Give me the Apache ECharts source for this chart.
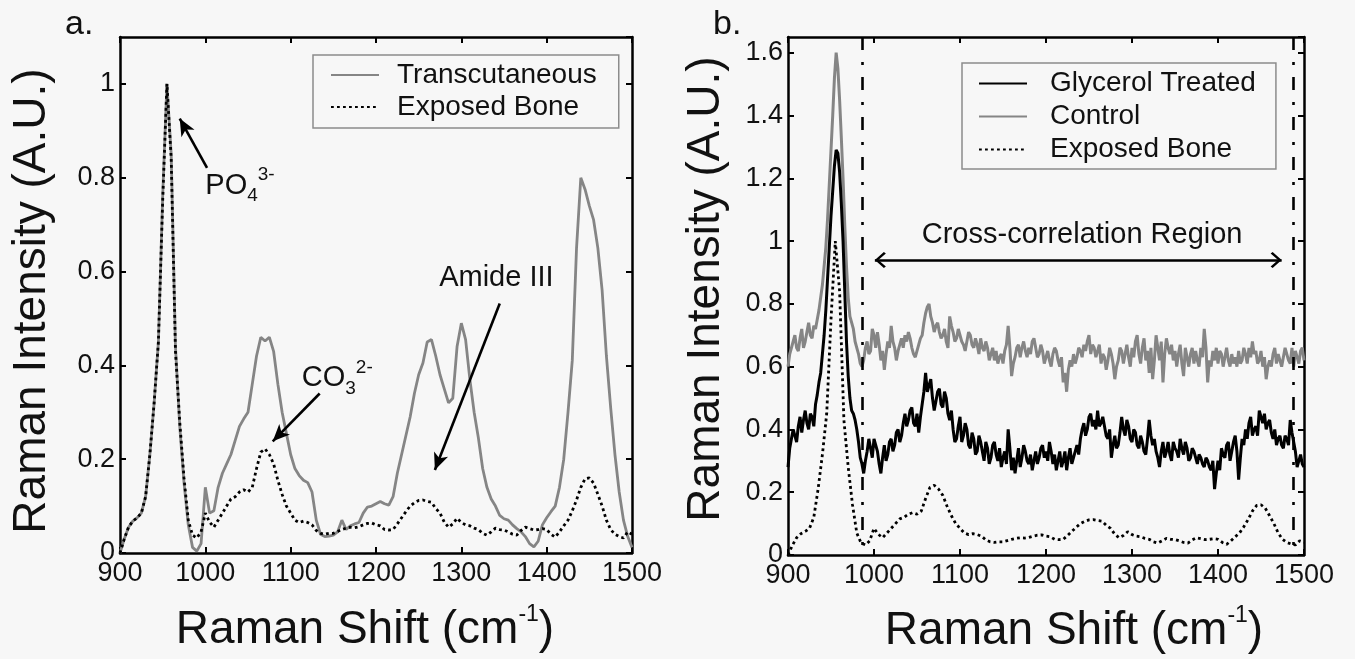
<!DOCTYPE html>
<html>
<head>
<meta charset="utf-8">
<title>Raman spectra</title>
<script src="https://cdn.jsdelivr.net/npm/echarts@6/dist/echarts.min.js"></script>
<style>
  html, body { margin: 0; padding: 0; background: #f7f7f7; }
  #chart { width: 1355px; height: 659px; }
</style>
</head>
<body>
<div id="chart"></div>
<script>
// panel a: 5 cm-1 grid
var shiftA = [
  900,905,910,915,920,925,930,935,940,945,
  950,955,960,965,970,975,980,985,990,995,
  1000,1005,1010,1015,1020,1025,1030,1035,1040,1045,
  1050,1055,1060,1065,1070,1075,1080,1085,1090,1095,
  1100,1105,1110,1115,1120,1125,1130,1135,1140,1145,
  1150,1155,1160,1165,1170,1175,1180,1185,1190,1195,
  1200,1205,1210,1215,1220,1225,1230,1235,1240,1245,
  1250,1255,1260,1265,1270,1275,1280,1285,1290,1295,
  1300,1305,1310,1315,1320,1325,1330,1335,1340,1345,
  1350,1355,1360,1365,1370,1375,1380,1385,1390,1395,
  1400,1405,1410,1415,1420,1425,1430,1435,1440,1445,
  1450,1455,1460,1465,1470,1475,1480,1485,1490,1495,
  1500
];
var transcutaneous = [
  0.00,0.03,0.055,0.068,0.075,0.085,0.12,0.21,0.32,0.45,
  0.76,1.00,0.85,0.44,0.27,0.15,0.06,0.012,0.004,0.02,
  0.14,0.085,0.09,0.14,0.17,0.19,0.21,0.24,0.27,0.286,
  0.30,0.36,0.42,0.46,0.452,0.46,0.43,0.36,0.30,0.255,
  0.21,0.18,0.165,0.155,0.15,0.13,0.07,0.04,0.035,0.036,
  0.038,0.045,0.07,0.05,0.058,0.062,0.065,0.085,0.098,0.10,
  0.105,0.11,0.105,0.102,0.12,0.17,0.21,0.25,0.29,0.34,
  0.38,0.405,0.45,0.455,0.42,0.38,0.35,0.32,0.33,0.44,
  0.49,0.455,0.37,0.30,0.245,0.18,0.14,0.115,0.10,0.08,
  0.073,0.07,0.06,0.052,0.045,0.035,0.02,0.013,0.025,0.06,
  0.075,0.088,0.10,0.14,0.20,0.30,0.41,0.65,0.80,0.775,
  0.74,0.71,0.65,0.56,0.42,0.31,0.21,0.13,0.07,0.035,
  0.012
];
var exposedBone = [
  0.00,0.03,0.055,0.068,0.075,0.085,0.12,0.21,0.32,0.45,
  0.75,1.00,0.84,0.43,0.28,0.16,0.07,0.038,0.032,0.045,
  0.085,0.066,0.055,0.07,0.085,0.10,0.115,0.12,0.13,0.135,
  0.13,0.14,0.18,0.215,0.222,0.21,0.19,0.155,0.125,0.10,
  0.085,0.07,0.065,0.068,0.065,0.06,0.048,0.042,0.04,0.042,
  0.042,0.046,0.05,0.053,0.055,0.054,0.056,0.06,0.063,0.064,
  0.06,0.058,0.05,0.049,0.05,0.062,0.075,0.088,0.10,0.107,
  0.112,0.113,0.11,0.108,0.095,0.085,0.066,0.055,0.062,0.074,
  0.065,0.06,0.058,0.053,0.05,0.042,0.038,0.045,0.053,0.05,
  0.049,0.045,0.04,0.038,0.048,0.055,0.052,0.049,0.05,0.052,
  0.05,0.04,0.034,0.045,0.058,0.07,0.09,0.113,0.14,0.158,
  0.16,0.149,0.125,0.10,0.07,0.05,0.04,0.035,0.032,0.045,
  0.04
];

// panel b: 2 cm-1 grid
var shiftB = [
  900,902,904,906,908,910,912,914,916,918,920,922,924,926,928,930,932,934,936,938,
  940,942,944,946,948,950,952,954,956,958,960,962,964,966,968,970,972,974,976,978,
  980,982,984,986,988,990,992,994,996,998,1000,1002,1004,1006,1008,1010,1012,1014,1016,1018,
  1020,1022,1024,1026,1028,1030,1032,1034,1036,1038,1040,1042,1044,1046,1048,1050,1052,1054,1056,1058,
  1060,1062,1064,1066,1068,1070,1072,1074,1076,1078,1080,1082,1084,1086,1088,1090,1092,1094,1096,1098,
  1100,1102,1104,1106,1108,1110,1112,1114,1116,1118,1120,1122,1124,1126,1128,1130,1132,1134,1136,1138,
  1140,1142,1144,1146,1148,1150,1152,1154,1156,1158,1160,1162,1164,1166,1168,1170,1172,1174,1176,1178,
  1180,1182,1184,1186,1188,1190,1192,1194,1196,1198,1200,1202,1204,1206,1208,1210,1212,1214,1216,1218,
  1220,1222,1224,1226,1228,1230,1232,1234,1236,1238,1240,1242,1244,1246,1248,1250,1252,1254,1256,1258,
  1260,1262,1264,1266,1268,1270,1272,1274,1276,1278,1280,1282,1284,1286,1288,1290,1292,1294,1296,1298,
  1300,1302,1304,1306,1308,1310,1312,1314,1316,1318,1320,1322,1324,1326,1328,1330,1332,1334,1336,1338,
  1340,1342,1344,1346,1348,1350,1352,1354,1356,1358,1360,1362,1364,1366,1368,1370,1372,1374,1376,1378,
  1380,1382,1384,1386,1388,1390,1392,1394,1396,1398,1400,1402,1404,1406,1408,1410,1412,1414,1416,1418,
  1420,1422,1424,1426,1428,1430,1432,1434,1436,1438,1440,1442,1444,1446,1448,1450,1452,1454,1456,1458,
  1460,1462,1464,1466,1468,1470,1472,1474,1476,1478,1480,1482,1484,1486,1488,1490,1492,1494,1496,1498,
  1500
];
var glycerol = [
  0.28,0.34,0.37,0.40,0.38,0.36,0.41,0.44,0.39,0.43,0.46,0.42,0.40,0.45,0.44,0.41,0.48,0.51,0.55,0.58,
  0.64,0.70,0.78,0.88,0.98,1.08,1.16,1.24,1.29,1.28,1.22,1.12,1.00,0.84,0.68,0.57,0.50,0.46,0.45,0.43,
  0.40,0.36,0.31,0.29,0.26,0.30,0.33,0.37,0.34,0.31,0.37,0.35,0.33,0.29,0.26,0.31,0.35,0.30,0.32,0.36,
  0.37,0.33,0.35,0.39,0.40,0.36,0.38,0.42,0.45,0.41,0.43,0.46,0.47,0.42,0.41,0.45,0.39,0.44,0.48,0.52,
  0.58,0.52,0.54,0.56,0.50,0.46,0.49,0.52,0.53,0.48,0.47,0.52,0.50,0.45,0.43,0.46,0.40,0.36,0.37,0.41,
  0.44,0.36,0.38,0.42,0.40,0.35,0.34,0.39,0.37,0.32,0.33,0.38,0.36,0.33,0.30,0.36,0.34,0.29,0.31,0.35,
  0.36,0.32,0.30,0.34,0.28,0.31,0.33,0.29,0.40,0.34,0.27,0.31,0.26,0.30,0.34,0.28,0.31,0.35,0.33,0.30,
  0.29,0.32,0.27,0.30,0.33,0.29,0.31,0.34,0.35,0.31,0.33,0.30,0.36,0.33,0.29,0.32,0.27,0.30,0.33,0.28,
  0.30,0.33,0.27,0.31,0.34,0.29,0.31,0.33,0.35,0.32,0.37,0.40,0.42,0.38,0.40,0.44,0.45,0.41,0.43,0.40,
  0.46,0.41,0.42,0.44,0.41,0.38,0.37,0.40,0.31,0.35,0.38,0.34,0.35,0.39,0.44,0.40,0.38,0.43,0.41,0.37,
  0.36,0.40,0.39,0.35,0.34,0.38,0.36,0.33,0.32,0.37,0.43,0.38,0.35,0.37,0.33,0.31,0.28,0.33,0.36,0.31,
  0.33,0.36,0.32,0.30,0.36,0.34,0.33,0.31,0.37,0.34,0.32,0.36,0.34,0.30,0.31,0.34,0.33,0.31,0.29,0.32,
  0.31,0.29,0.28,0.31,0.30,0.28,0.27,0.30,0.21,0.26,0.30,0.27,0.34,0.32,0.31,0.35,0.36,0.30,0.33,0.36,
  0.38,0.33,0.24,0.31,0.37,0.35,0.40,0.37,0.42,0.44,0.38,0.40,0.41,0.38,0.46,0.44,0.42,0.45,0.40,0.42,
  0.43,0.39,0.37,0.40,0.35,0.37,0.38,0.35,0.34,0.38,0.37,0.35,0.43,0.39,0.36,0.33,0.28,0.30,0.32,0.29,
  0.28
];
var control = [
  0.60,0.64,0.66,0.68,0.70,0.66,0.65,0.69,0.72,0.66,0.68,0.71,0.74,0.70,0.69,0.73,0.72,0.75,0.78,0.82,
  0.86,0.92,0.98,1.07,1.18,1.29,1.40,1.52,1.60,1.55,1.45,1.33,1.20,1.05,0.92,0.82,0.76,0.74,0.72,0.68,
  0.66,0.64,0.61,0.60,0.62,0.66,0.68,0.64,0.65,0.72,0.70,0.66,0.71,0.67,0.62,0.65,0.59,0.64,0.68,0.66,
  0.73,0.68,0.66,0.62,0.65,0.67,0.69,0.66,0.70,0.68,0.71,0.69,0.66,0.64,0.63,0.65,0.67,0.69,0.70,0.74,
  0.77,0.79,0.80,0.76,0.74,0.71,0.73,0.74,0.71,0.69,0.70,0.72,0.68,0.66,0.76,0.73,0.71,0.68,0.69,0.72,
  0.70,0.68,0.67,0.65,0.68,0.71,0.70,0.67,0.66,0.69,0.67,0.64,0.69,0.66,0.65,0.68,0.66,0.62,0.64,0.66,
  0.62,0.65,0.61,0.63,0.64,0.61,0.65,0.67,0.73,0.66,0.57,0.61,0.63,0.66,0.67,0.63,0.66,0.68,0.65,0.63,
  0.66,0.64,0.68,0.69,0.66,0.63,0.64,0.67,0.65,0.61,0.63,0.65,0.62,0.60,0.64,0.66,0.65,0.62,0.60,0.63,
  0.55,0.58,0.52,0.59,0.62,0.60,0.64,0.61,0.63,0.66,0.65,0.63,0.67,0.65,0.68,0.70,0.64,0.67,0.66,0.63,
  0.65,0.67,0.61,0.64,0.63,0.59,0.62,0.66,0.64,0.61,0.56,0.60,0.62,0.66,0.65,0.61,0.64,0.67,0.63,0.60,
  0.66,0.63,0.68,0.70,0.64,0.61,0.66,0.69,0.62,0.65,0.58,0.66,0.56,0.62,0.70,0.66,0.62,0.68,0.55,0.64,
  0.69,0.66,0.64,0.67,0.62,0.65,0.60,0.64,0.67,0.61,0.57,0.66,0.63,0.60,0.64,0.66,0.61,0.65,0.62,0.60,
  0.66,0.63,0.72,0.66,0.55,0.62,0.60,0.65,0.62,0.66,0.61,0.65,0.64,0.60,0.63,0.66,0.62,0.60,0.64,0.61,
  0.63,0.60,0.65,0.61,0.62,0.66,0.64,0.61,0.66,0.63,0.68,0.64,0.65,0.61,0.62,0.65,0.60,0.63,0.56,0.60,
  0.62,0.60,0.64,0.66,0.61,0.64,0.62,0.60,0.63,0.66,0.64,0.62,0.61,0.66,0.60,0.65,0.63,0.61,0.65,0.66,
  0.62
];

var yTicksA = [0, 1.1, 0.2];
var yTicksB = [0, 1.65, 0.2];

var FONT = '"Liberation Sans", Arial, Helvetica, sans-serif';
var GRAY = '#858585';
var INK = '#111';
var DOT = [2.8, 3.2];
// arrow heads drawn with the tip at the symbol centre
var ARROW = 'path://M0,-17 L0.01,-17 L0,-17 Z M0,0 L7.5,17 L0,12.5 L-7.5,17 Z';
var CHEVRON = 'path://M0,-11 L0.01,-11 L0,-11 Z M0,0 L8,9 L6.5,11 L0,3.5 L-6.5,11 L-8,9 Z';

function pairs(xs, ys) {
  return xs.map(function (x, i) { return [x, ys[i]]; });
}
function fmt(v) { return String(Math.round(v * 10) / 10); }

function xAx(grid, pos, labels) {
  return {
    type: 'value', gridIndex: grid, position: pos, min: 900, max: 1500, interval: 100,
    axisLine: { show: true, onZero: false, lineStyle: { color: '#000', width: 2.5 } },
    axisTick: { show: true, inside: true, length: 6, lineStyle: { color: '#000', width: 2 } },
    axisLabel: { show: labels, color: INK, fontSize: 27, fontFamily: FONT, margin: 7,
                 formatter: function (v) { return String(v); } },
    splitLine: { show: false }
  };
}
function yAx(grid, pos, labels, t) {
  return {
    type: 'value', gridIndex: grid, position: pos, min: t[0], max: t[1], interval: t[2],
    axisLine: { show: true, onZero: false, lineStyle: { color: '#000', width: 2.5 } },
    axisTick: { show: true, inside: true, length: 6, lineStyle: { color: '#000', width: 2 } },
    axisLabel: { show: labels, color: INK, fontSize: 27, fontFamily: FONT, margin: 5,
                 formatter: fmt, showMaxLabel: false },
    splitLine: { show: false }
  };
}
function legendBox(names, left, top, pad, lh, textPad) {
  return {
    data: names, orient: 'vertical', left: left, top: top,
    itemWidth: 48, itemHeight: 14, itemGap: 0, padding: pad,
    borderColor: '#8c8c8c', borderWidth: 1.5, backgroundColor: '#f7f7f7',
    selectedMode: false,
    itemStyle: { opacity: 0 },
    textStyle: { fontSize: 28, color: INK, fontFamily: FONT, lineHeight: lh, padding: [0, 0, 0, textPad] }
  };
}

var chart = echarts.init(document.getElementById('chart'));
var option = {
  backgroundColor: '#f7f7f7',
  animation: false,
  grid: [
    { left: 120, top: 37, width: 512, height: 516 },
    { left: 788, top: 37, width: 516, height: 518 }
  ],
  xAxis: [xAx(0, 'bottom', true), xAx(0, 'top', false), xAx(1, 'bottom', true), xAx(1, 'top', false)],
  yAxis: [yAx(0, 'left', true, yTicksA), yAx(0, 'right', false, yTicksA),
          yAx(1, 'left', true, yTicksB), yAx(1, 'right', false, yTicksB)],
  legend: [
    legendBox(['Transcutaneous', 'Exposed Bone'], 313, 55, [4, 22, 5, 17], 32, 13),
    legendBox(['Glycerol Treated', 'Control', 'Exposed Bone'], 962, 63, [4, 20, 3, 16], 33, 18)
  ],
  series: [
    {
      name: 'Transcutaneous', type: 'line', xAxisIndex: 0, yAxisIndex: 0,
      data: pairs(shiftA, transcutaneous), symbol: 'none',
      lineStyle: { color: GRAY, width: 2.8 }, itemStyle: { color: GRAY }
    },
    {
      name: 'Exposed Bone', type: 'line', xAxisIndex: 0, yAxisIndex: 0,
      data: pairs(shiftA, exposedBone), symbol: 'none',
      lineStyle: { color: '#000', width: 2.8, type: DOT }, itemStyle: { color: '#000' },
      markLine: {
        silent: true, symbol: ['none', ARROW], symbolSize: [15, 34],
        label: { show: false },
        lineStyle: { color: '#000', width: 2.6, type: 'solid' },
        data: [
          [{ coord: [1002, 0.821] }, { coord: [970, 0.926] }],
          [{ coord: [1134, 0.340] }, { coord: [1079, 0.238] }],
          [{ coord: [1345, 0.532] }, { coord: [1269, 0.177] }]
        ]
      }
    },
    {
      name: 'Control', type: 'line', xAxisIndex: 2, yAxisIndex: 2,
      data: pairs(shiftB, control), symbol: 'none',
      lineStyle: { color: GRAY, width: 3 }, itemStyle: { color: GRAY }
    },
    {
      name: 'Glycerol Treated', type: 'line', xAxisIndex: 2, yAxisIndex: 2,
      data: pairs(shiftB, glycerol), symbol: 'none',
      lineStyle: { color: '#000', width: 3 }, itemStyle: { color: '#000' }
    },
    {
      name: 'Exposed Bone', type: 'line', xAxisIndex: 2, yAxisIndex: 2,
      data: pairs(shiftA, exposedBone), symbol: 'none',
      lineStyle: { color: '#000', width: 2.8, type: DOT }, itemStyle: { color: '#000' },
      markLine: {
        silent: true, symbol: 'none', label: { show: false },
        lineStyle: { color: '#000', width: 2.6, type: [13, 12, 3, 12] },
        data: [
          [{ coord: [986, 1.65] }, { coord: [986, 0] }],
          [{ coord: [1487, 1.65] }, { coord: [1487, 0] }],
          [{ coord: [1001, 0.94], symbol: CHEVRON, symbolSize: [16, 22],
             lineStyle: { type: 'solid', width: 2.5, color: '#000' } },
           { coord: [1474, 0.94], symbol: CHEVRON, symbolSize: [16, 22] }]
        ]
      }
    }
  ]
};
chart.setOption(option);

// text annotations placed from data coordinates
function at(ax, x, y) { return chart.convertToPixel({ xAxisIndex: ax, yAxisIndex: ax }, [x, y]); }
var rich = {
  m: { fontSize: 29, lineHeight: 40, verticalAlign: 'middle', fontFamily: FONT, fill: INK },
  b: { fontSize: 19, lineHeight: 19, verticalAlign: 'bottom', fontFamily: FONT, fill: INK },
  t: { fontSize: 19, lineHeight: 19, verticalAlign: 'top', fontFamily: FONT, fill: INK }
};
var titleRich = {
  m: { fontSize: 46, lineHeight: 54, verticalAlign: 'middle', fontFamily: FONT, fill: INK },
  t: { fontSize: 23, lineHeight: 42, verticalAlign: 'top', fontFamily: FONT, fill: INK }
};
function label(p, text, r, align, rot) {
  return {
    type: 'text', x: p[0], y: p[1], rotation: rot || 0, z: 100, silent: true,
    style: { text: text, rich: r, align: align, verticalAlign: 'middle',
             fontFamily: FONT, fontSize: 29, fill: INK }
  };
}
var notes = [
  label(at(0, 1000, 0.783), '{m|PO}{b|4}{t|3-}', rich, 'left'),
  label(at(0, 1113, 0.373), '{m|CO}{b|3}{t|2-}', rich, 'left'),
  label(at(0, 1274, 0.587), '{m|Amide III}', rich, 'left'),
  label(at(2, 1242, 1.02), '{m|Cross-correlation Region}', rich, 'center'),
  label([365, 630], '{m|Raman Shift (cm}{t|-1}{m|)}', titleRich, 'center'),
  label([1074, 631], '{m|Raman Shift (cm}{t|-1}{m|)}', titleRich, 'center'),
  label([32, 301], '{m|Raman Intensity (A.U.)}', titleRich, 'center', Math.PI / 2),
  label([706, 289], '{m|Raman Intensity (A.U.)}', titleRich, 'center', Math.PI / 2),
  label([65, 25], '{p|a.}', { p: { fontSize: 34, fontFamily: FONT, fill: INK } }, 'left'),
  label([713, 25], '{p|b.}', { p: { fontSize: 34, fontFamily: FONT, fill: INK } }, 'left')
];
chart.setOption({ graphic: notes });
</script>
</body>
</html>
